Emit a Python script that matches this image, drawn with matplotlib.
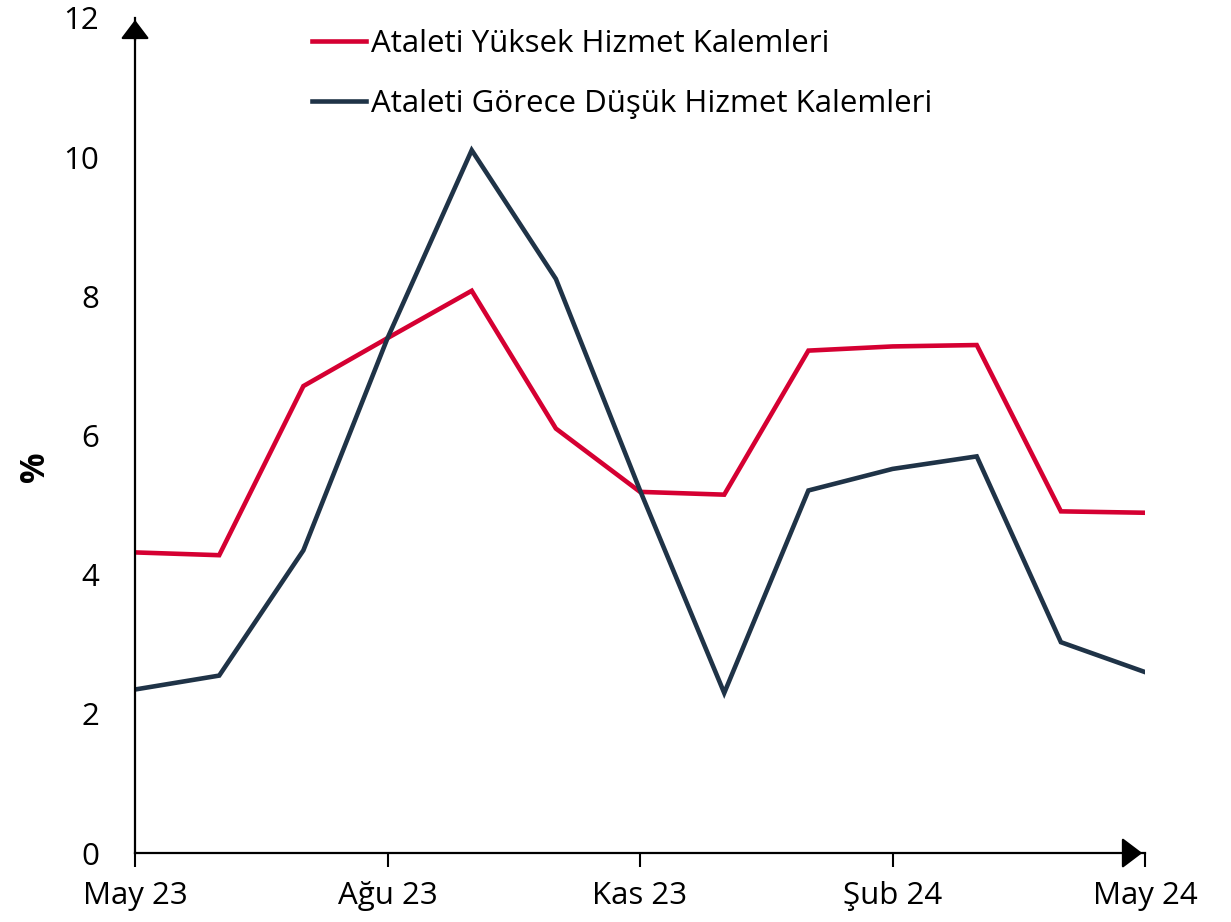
import numpy as np
import matplotlib.pyplot as plt

plt.rcParams['font.family'] = ['Open Sans', 'DejaVu Sans']

# monthly data May 23 .. May 24
months = ["May 23", "Haz 23", "Tem 23", "Ağu 23", "Eyl 23", "Eki 23", "Kas 23",
          "Ara 23", "Oca 24", "Şub 24", "Mar 24", "Nis 24", "May 24"]
yuksek = [4.32, 4.28, 6.71, 7.40, 8.08, 6.10, 5.19, 5.15, 7.22, 7.28, 7.30, 4.91, 4.89]
dusuk = [2.35, 2.55, 4.35, 7.40, 10.10, 8.25, 5.21, 2.30, 5.21, 5.52, 5.70, 3.03, 2.60]
tick_idx = [0, 3, 6, 9, 12]

red = "#D50032"
navy = "#1F3347"

fig = plt.figure(figsize=(12.31, 9.22), dpi=100)
ax = fig.add_axes([0.1097, 0.0748, 0.8205, 0.9057])

x = np.arange(len(months))
ax.plot(x, yuksek, color=red, lw=3.3, solid_joinstyle="miter", label="Ataleti Yüksek Hizmet Kalemleri")
ax.plot(x, dusuk, color=navy, lw=3.3, solid_joinstyle="miter", label="Ataleti Görece Düşük Hizmet Kalemleri")

ax.set_xlim(0, 12)
ax.set_ylim(0, 12)
ax.set_xticks(tick_idx)
ax.set_xticklabels([months[i] for i in tick_idx])
ax.set_yticks([0, 2, 4, 6, 8, 10, 12])
ax.tick_params(axis="x", direction="out", length=10, width=1.5, labelsize=22.5, pad=10)
ax.tick_params(axis="y", length=0, labelsize=22.5, pad=26)

for s in ["top", "right"]:
    ax.spines[s].set_visible(False)
for s in ["left", "bottom"]:
    ax.spines[s].set_linewidth(1.6)

# arrow heads on axes
head = "-|>,head_length=0.45,head_width=0.34"
ax.annotate("", xy=(1, 0), xytext=(0.98, 0), xycoords="axes fraction",
            arrowprops=dict(arrowstyle=head, color="black", lw=1.6, mutation_scale=28))
ax.annotate("", xy=(0, 1.001), xytext=(0, 0.97), xycoords="axes fraction",
            arrowprops=dict(arrowstyle=head, color="black", lw=1.6, mutation_scale=26))

ax.set_ylabel("%", fontsize=24.5, fontweight="bold")
ax.yaxis.set_label_coords(-0.082, 0.463)

leg = ax.legend(loc="upper left", bbox_to_anchor=(0.147, 1.02), frameon=False, fontsize=22.5,
                handlelength=1.75, handletextpad=0.15, labelspacing=0.95)

fig.savefig("out.png", dpi=100)
